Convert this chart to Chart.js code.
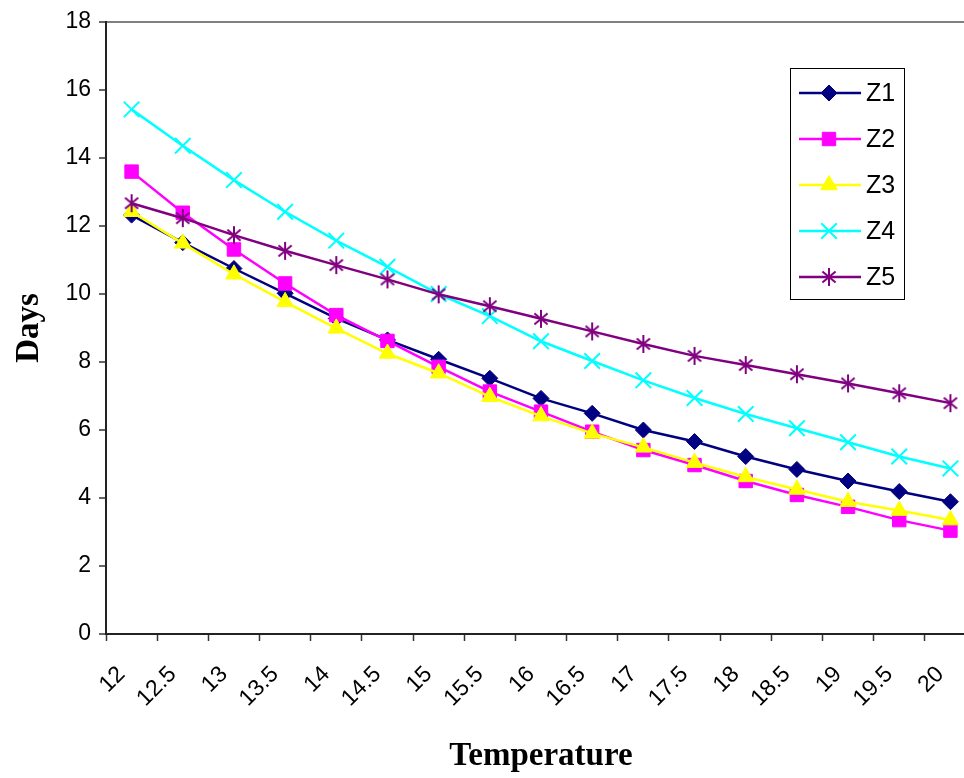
<!DOCTYPE html>
<html><head><meta charset="utf-8">
<script src="https://cdn.jsdelivr.net/npm/chart.js@4.4.1/dist/chart.umd.min.js"></script>
<style>html,body{margin:0;padding:0;overflow:hidden;background:#fff;} #wrap{width:989px;height:778px;}</style>
</head><body><div id="wrap"><canvas id="c" width="989" height="778"></canvas></div>
<script>
const categories = ['12','12.5','13','13.5','14','14.5','15','15.5','16','16.5','17','17.5','18','18.5','19','19.5','20'];
const z1 = [12.32, 11.51, 10.75, 10.02, 9.28, 8.65, 8.08, 7.52, 6.93, 6.49, 6.00, 5.66, 5.22, 4.84, 4.50, 4.19, 3.89];
const z2 = [13.60, 12.39, 11.31, 10.31, 9.38, 8.62, 7.86, 7.13, 6.54, 5.95, 5.41, 4.97, 4.50, 4.09, 3.74, 3.35, 3.04];
const z3 = [12.42, 11.49, 10.58, 9.77, 8.99, 8.25, 7.67, 6.98, 6.41, 5.90, 5.49, 5.04, 4.62, 4.25, 3.89, 3.63, 3.35];
const z4 = [15.43, 14.36, 13.35, 12.42, 11.57, 10.80, 10.00, 9.35, 8.61, 8.03, 7.46, 6.94, 6.47, 6.05, 5.64, 5.22, 4.87];
const z5 = [12.67, 12.23, 11.73, 11.27, 10.85, 10.43, 9.99, 9.64, 9.27, 8.90, 8.53, 8.18, 7.91, 7.64, 7.37, 7.08, 6.79];
const seriesNames = ['Z1','Z2','Z3','Z4','Z5'];
const yMin = 0, yMax = 18, yStep = 2;
const xTitle = 'Temperature';
const yTitle = 'Days';

function makeStar(color){
  const c = document.createElement('canvas'); c.width = 20; c.height = 20;
  const g = c.getContext('2d'); g.strokeStyle = color; g.lineWidth = 2;
  g.beginPath();
  g.moveTo(10,1); g.lineTo(10,19);
  g.moveTo(3.4,4.4); g.lineTo(16.6,15.6);
  g.moveTo(16.6,4.4); g.lineTo(3.4,15.6);
  g.stroke();
  return c;
}
const styles = [
  {color:'#000080', point:'rectRot', r:8, bw:1},
  {color:'#FF00FF', point:'rect', r:9.5, bw:1},
  {color:'#FFFF00', point:'triangle', r:9.5, bw:1},
  {color:'#00FFFF', point:'crossRot', r:11, bw:2},
  {color:'#800080', point:makeStar('#800080'), r:10, bw:2}
];
const series = [z1,z2,z3,z4,z5];

const datasets = series.map((d,i)=>({
  label: seriesNames[i],
  data: d,
  borderColor: styles[i].color,
  backgroundColor: styles[i].color,
  pointBackgroundColor: styles[i].color,
  pointBorderColor: styles[i].color,
  pointStyle: styles[i].point,
  pointRadius: styles[i].r,
  pointHoverRadius: styles[i].r,
  pointBorderWidth: styles[i].bw,
  borderWidth: 2.5,
  tension: 0,
  fill: false,
  order: series.length - 1 - i
}));

function drawMarker(ctx, ds, x, y){
  if (Chart.helpers && Chart.helpers.drawPoint) {
    Chart.helpers.drawPoint(ctx, {pointStyle: ds.pointStyle, radius: ds.pointRadius, borderWidth: ds.pointBorderWidth, rotation: 0}, x, y);
    return;
  }
  const r = ds.pointRadius, s = ds.pointStyle;
  ctx.beginPath();
  if (s === 'rectRot') { ctx.moveTo(x-r,y); ctx.lineTo(x,y-r); ctx.lineTo(x+r,y); ctx.lineTo(x,y+r); ctx.closePath(); ctx.fill(); ctx.stroke(); }
  else if (s === 'rect') { const h=r*Math.SQRT1_2; ctx.rect(x-h,y-h,2*h,2*h); ctx.fill(); ctx.stroke(); }
  else if (s === 'triangle') { for (let k=0;k<3;k++){ const a=k*2*Math.PI/3; const px=x+Math.sin(a)*r, py=y-Math.cos(a)*r; k?ctx.lineTo(px,py):ctx.moveTo(px,py);} ctx.closePath(); ctx.fill(); ctx.stroke(); }
  else if (s === 'crossRot') { const o=r*Math.SQRT1_2; ctx.moveTo(x-o,y-o); ctx.lineTo(x+o,y+o); ctx.moveTo(x+o,y-o); ctx.lineTo(x-o,y+o); ctx.stroke(); }
  else if (s instanceof HTMLCanvasElement) { ctx.drawImage(s, x-s.width/2, y-s.height/2); }
}

const boxLegend = {
  id: 'boxLegend',
  afterDraw(chart){
    const ctx = chart.ctx; ctx.save();
    ctx.fillStyle = '#fff'; ctx.fillRect(790,68,114,231);
    ctx.strokeStyle = '#000'; ctx.lineWidth = 1; ctx.strokeRect(790.5,68.5,114,231);
    chart.data.datasets.forEach((ds,i)=>{
      const y = 93 + i*46;
      ctx.strokeStyle = ds.borderColor; ctx.lineWidth = ds.borderWidth;
      ctx.beginPath(); ctx.moveTo(799,y); ctx.lineTo(861,y); ctx.stroke();
      ctx.fillStyle = ds.pointBackgroundColor; ctx.strokeStyle = ds.pointBorderColor; ctx.lineWidth = ds.pointBorderWidth;
      drawMarker(ctx, ds, 829, y);
      ctx.fillStyle = '#000'; ctx.font = '25px "Liberation Sans", Arial, sans-serif';
      ctx.textBaseline = 'middle'; ctx.textAlign = 'left';
      ctx.fillText(ds.label, 866, y+1);
    });
    ctx.restore();
  }
};

new Chart(document.getElementById('c'), {
  type: 'line',
  data: { labels: categories, datasets },
  plugins: [boxLegend],
  options: {
    responsive: false,
    animation: false,
    layout: { padding: { top: 22, right: 0, left: 0, bottom: 0 } },
    plugins: { legend: { display: false }, tooltip: { enabled: false } },
    scales: {
      x: {
        type: 'category',
        offset: true,
        grid: { offset: true, drawOnChartArea: false, drawTicks: true, tickLength: 7, tickColor: '#333', tickWidth: 1.5 },
        border: { display: true, color: '#222', width: 2 },
        ticks: { color: '#000', font: { family: '"Liberation Sans", Arial, sans-serif', size: 23 }, minRotation: 45, maxRotation: 45, padding: 20, labelOffset: -10, autoSkip: false },
        title: { display: true, text: xTitle, color: '#000', font: { family: '"Liberation Serif", "Times New Roman", serif', size: 33, weight: 'bold' }, padding: { top: 0, bottom: 2 } },
        afterFit(scale){ scale.height = 144; scale.paddingLeft = 0; scale.paddingRight = 0; }
      },
      y: {
        min: yMin, max: yMax,
        grid: { drawOnChartArea: true, color: (c)=> (c.tick && c.tick.value === yMax) ? '#808080' : 'rgba(0,0,0,0)', lineWidth: 2, tickColor: '#000', tickLength: 7, tickWidth: 1.2 },
        border: { display: true, color: '#222', width: 2 },
        ticks: { stepSize: yStep, color: '#000', font: { family: '"Liberation Sans", Arial, sans-serif', size: 23 }, padding: 8 },
        title: { display: true, text: yTitle, color: '#000', font: { family: '"Liberation Serif", "Times New Roman", serif', size: 33, weight: 'bold' }, padding: { top: 10, bottom: 0 } },
        afterFit(scale){ scale.width = 106; }
      }
    }
  }
});
</script></body></html>
